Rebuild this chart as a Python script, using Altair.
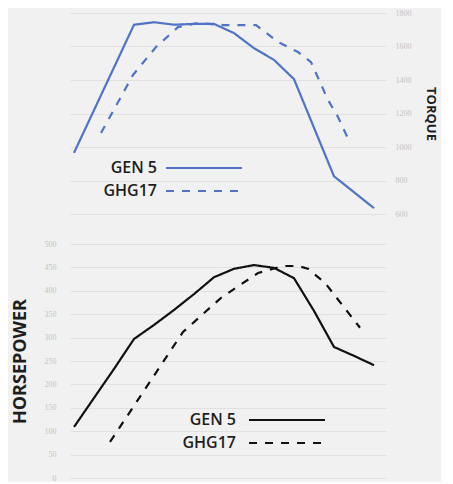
import altair as alt
import pandas as pd

# ---------------- data ----------------
series_names = ["GEN 5", "GHG17"]

gen5_rpm = [1000, 1200, 1400, 1600, 1800, 2000, 2200, 2400, 2600, 2800,
            3000, 3200, 3400, 3600, 3800, 4000]
gen5_torque = [965, 1220, 1475, 1730, 1745, 1730, 1735, 1735, 1680, 1590,
               1520, 1405, 1115, 825, 730, 635]
gen5_hp = [109, 171, 233, 297, 327, 359, 393, 429, 447, 455,
           449, 427, 357, 280, 261, 241]

ghg17_torque_rpm = [1270, 1590, 1820, 2040, 2240, 2490, 2820, 3040, 3240,
                    3370, 3540, 3640, 3760]
ghg17_torque = [1084, 1430, 1597, 1716, 1740, 1728, 1728, 1627, 1567,
                1507, 1281, 1179, 1024]

ghg17_hp_rpm = [1360, 2090, 2470, 2840, 3090, 3240, 3340, 3510, 3860]
ghg17_hp = [77, 312, 385, 438, 453, 453, 447, 417, 321]

torque_ticks = [600, 800, 1000, 1200, 1400, 1600, 1800]
hp_ticks = [0, 50, 100, 150, 200, 250, 300, 350, 400, 450, 500]

torque_df = pd.concat([
    pd.DataFrame({"rpm": gen5_rpm, "value": gen5_torque, "series": series_names[0]}),
    pd.DataFrame({"rpm": ghg17_torque_rpm, "value": ghg17_torque, "series": series_names[1]}),
])
hp_df = pd.concat([
    pd.DataFrame({"rpm": gen5_rpm, "value": gen5_hp, "series": series_names[0]}),
    pd.DataFrame({"rpm": ghg17_hp_rpm, "value": ghg17_hp, "series": series_names[1]}),
])
legend_df = pd.DataFrame({"series": series_names})

BLUE = "#4f73c6"
INK = "#1e1e1e"
GRID = "#e1e1e1"
TICK = "#c4c4c4"

x_enc = alt.X("rpm:Q", scale=alt.Scale(domain=[960, 4120], nice=False, zero=False), axis=None)
dash = alt.StrokeDash("series:N",
                      scale=alt.Scale(domain=series_names, range=[[1, 0], [8, 8]]),
                      legend=None)


def legend_layers(color, text_x, rule_x, rule_x2, rows):
    ypos = alt.Y("series:N", axis=None,
                 scale=alt.Scale(type="point", domain=series_names, range=rows, padding=0))
    base = alt.Chart(legend_df)
    labels = base.mark_text(align="right", baseline="middle", font="Open Sans",
                            fontSize=16, fontWeight=600, color=INK).encode(
        x=alt.value(text_x), y=ypos, text="series:N")
    rules = base.mark_rule(color=color, strokeWidth=2.2).encode(
        x=alt.value(rule_x), x2=alt.value(rule_x2), y=ypos, strokeDash=dash)
    return labels, rules


top_lines = alt.Chart(torque_df).mark_line(color=BLUE, strokeWidth=2.2).encode(
    x=x_enc,
    y=alt.Y(
        "value:Q",
        scale=alt.Scale(domain=[600, 1800], nice=False, zero=False),
        axis=alt.Axis(
            orient="right", values=torque_ticks, format="d", grid=True, gridColor=GRID,
            domain=False, ticks=False, labelFont="Liberation Serif",
            labelFontSize=8, labelColor=TICK, labelPadding=9,
            title="TORQUE", titleAngle=90, titleFont="Open Sans",
            titleFontWeight="bold", titleFontSize=13, titleColor=INK,
            titlePadding=12,
        ),
    ),
    strokeDash=dash,
)
tl, tr = legend_layers(BLUE, 87, 96, 172, [155, 178])
top = alt.layer(top_lines, tl, tr).resolve_scale(y="independent").properties(
    width=316, height=201)

bottom_lines = alt.Chart(hp_df).mark_line(color="#111111", strokeWidth=2.2).encode(
    x=x_enc,
    y=alt.Y(
        "value:Q",
        scale=alt.Scale(domain=[0, 500], nice=False),
        axis=alt.Axis(
            orient="left", values=hp_ticks, format="d", grid=True, gridColor=GRID,
            domain=False, ticks=False, labelFont="Liberation Serif",
            labelFontSize=8, labelColor=TICK, labelPadding=14,
            title="HORSEPOWER", titleFont="Open Sans",
            titleFontWeight="bold", titleFontSize=18, titleColor=INK,
            titlePadding=15,
        ),
    ),
    strokeDash=dash,
)
bl, br = legend_layers("#111111", 166, 179, 255, [176, 199])
bottom = alt.layer(bottom_lines, bl, br).resolve_scale(y="independent").properties(
    width=316, height=234)

chart = alt.vconcat(top, bottom, spacing=22).properties(
    padding={"top": 1, "left": 3, "right": 5, "bottom": 0}
).configure(
    background="#f1f1f1"
).configure_view(stroke=None)

chart.save("out.html", embed_options={"renderer": "svg", "actions": False})
